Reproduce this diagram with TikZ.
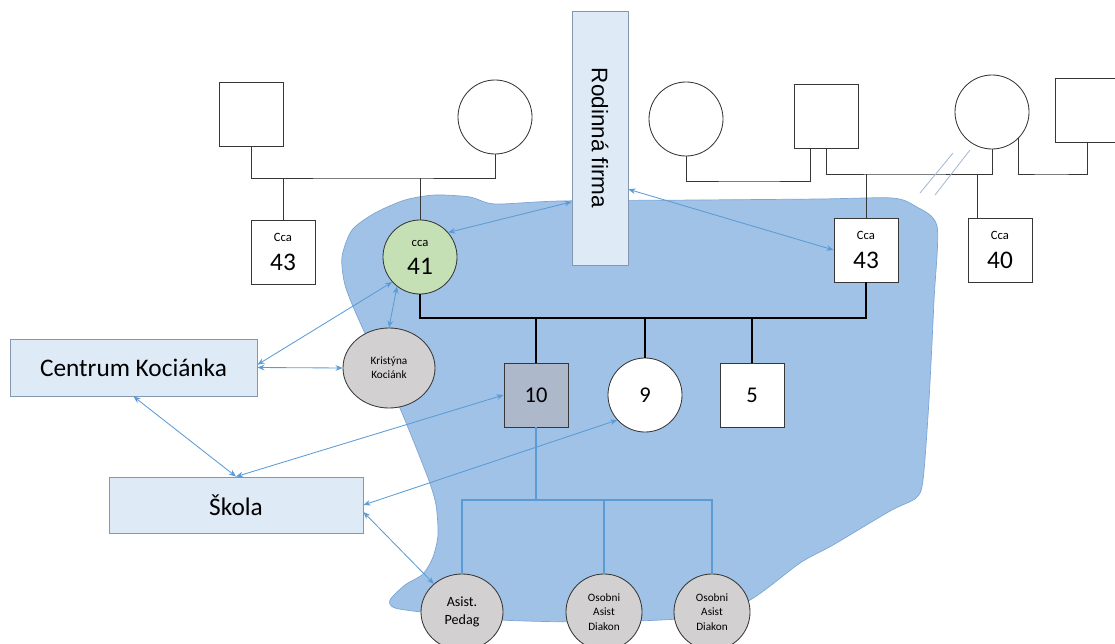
\documentclass[tikz,border=0pt]{standalone}
\usepackage{fontspec}
\setmainfont{Carlito}
\newfontfamily\arialfont{Liberation Sans}
\usetikzlibrary{shapes.geometric,arrows.meta,calc}

\definecolor{blobblue}{RGB}{160,194,230}
\definecolor{blobedge}{RGB}{125,165,212}
\definecolor{arrowblue}{RGB}{91,155,213}
\definecolor{boxfill}{RGB}{222,235,247}
\definecolor{boxedge}{RGB}{132,151,176}
\definecolor{zelena}{RGB}{197,224,180}
\definecolor{seda}{RGB}{210,208,208}
\definecolor{sedomodra}{RGB}{173,185,202}
\definecolor{linegray}{RGB}{55,55,55}
\definecolor{slashgray}{RGB}{165,185,210}

\newcommand\velke{\fontsize{18}{20}\selectfont}
\newcommand\stredni{\fontsize{16}{18}\selectfont}
\newcommand\mensi{\fontsize{9}{10}\selectfont}

\begin{document}
\begin{tikzpicture}[x=0.025cm,y=-0.025cm]
\tikzset{
    osoba/.style={draw=linegray, line width=0.6pt, fill=white, inner sep=0pt, align=center},
    muz/.style={osoba, rectangle, minimum width=1.6cm, minimum height=1.6cm},
    zena/.style={osoba, ellipse, minimum width=1.85cm, minimum height=1.85cm},
    vek/.style={font=\velke},
    ramec/.style={draw=boxedge, fill=boxfill, line width=0.6pt, inner sep=0pt},
    vazba/.style={<->, >={Stealth[length=5pt,width=4pt]}, draw=arrowblue, line width=0.6pt},
    rodina/.style={draw=linegray, line width=0.7pt},
    deti/.style={draw=black, line width=2pt},
    pomoc/.style={draw=arrowblue, line width=1.2pt}
}
\useasboundingbox (0,0) rectangle (1115,643);

    % modra oblast
    \fill[blobblue, draw=blobedge, line width=0.5pt] plot[smooth cycle, tension=0.45] coordinates {
        (342,257) (352,230) (375,213) (405,200) (435,195) (470,197) (495,204) (560,201)
        (700,200) (820,199) (892,198) (915,206) (937,226) (934,300) (929,400) (923,480)
        (916,498) (890,511) (833,545) (800,563) (750,600) (700,617) (600,622) (500,620)
        (430,613) (395,608) (390,600) (405,585) (423,574) (433,557) (438,535) (436,505)
        (428,478) (402,413) (380,365) (358,318) (345,285)};

    % prarodice
    \node[muz] (gf1) at (251,114) {};
    \node[zena] (gm1) at (495,117) {};
    \node[zena] (gm2) at (686,119) {};
    \node[muz] (gf2) at (826,116) {};
    \node[zena] (gm3) at (992,112) {};
    \node[muz] (gf3) at (1087,110) {};

    % rodice
    \node[muz, vek] (u1) at (283,252) {{\mensi Cca}\\43};
    \node[zena, vek, fill=zelena] (mo) at (420,257) {{\mensi cca}\\41};
    \node[muz, vek] (fa) at (866,250) {{\mensi Cca}\\43};
    \node[muz, vek] (u2) at (1000,250) {{\mensi Cca}\\40};

    % deti
    \node[muz, fill=sedomodra, font=\stredni] (c10) at (536,395) {10};
    \node[zena, font=\stredni] (c9) at (645,395) {9};
    \node[muz, font=\stredni] (c5) at (752,395) {5};

    % instituce
    \node[ramec, minimum width=1.4cm, minimum height=6.35cm] (rf) at (600,138)
        {\rotatebox{-90}{\arialfont\stredni Rodinná firma}};
    \node[ramec, minimum width=6.175cm, minimum height=1.425cm, font=\velke] (ck) at (133.5,367.5) {Centrum Kociánka};
    \node[ramec, minimum width=6.35cm, minimum height=1.4cm, font=\velke] (sk) at (236,505) {Škola};

    % asistenti
    \node[osoba, ellipse, fill=seda, minimum width=2.3cm, minimum height=2cm,
        font=\fontsize{8}{10}\selectfont] (kr) at (389,368) {Kristýna\\Kociánk};
    \node[osoba, ellipse, fill=seda, minimum width=2.05cm, minimum height=1.9cm,
        font=\fontsize{10}{13}\selectfont] (ap) at (462,612) {Asist.\\Pedag};
    \node[osoba, ellipse, fill=seda, minimum width=1.9cm, minimum height=1.9cm,
        font=\fontsize{8}{10.5}\selectfont] (oa1) at (604,612) {Osobni\\Asist\\Diakon};
    \node[osoba, ellipse, fill=seda, minimum width=1.9cm, minimum height=1.9cm,
        font=\fontsize{8}{10.5}\selectfont] (oa2) at (712,612) {Osobni\\Asist\\Diakon};

    % rodinne linky
    \coordinate (l1) at (373,178);
    \coordinate (l5) at (750,181);
    \coordinate (l6) at (900,174);
    \coordinate (l7) at (1050,174);
    \coordinate (d40) at (977,174);
    \draw[rodina] (gf1.south) |- (l1) -| (gm1.south);
    \draw[rodina] (u1.north |- l1) -- (u1.north);
    \draw[rodina] (mo.north |- l1) -- (mo.north);
    \draw[rodina] (gm2.south) |- (l5) -| ($(gf2.south)+(-16,0)$);
    \draw[rodina] (gf2.south) |- (l6) -| (gm3.south);
    \draw[rodina] (fa.north |- l6) -- (fa.north);
    \draw[rodina] (d40) -- (d40 |- u2.north);
    \draw[rodina] (gm3.-45) |- (l7) -| (gf3.south);
    \draw[slashgray, line width=0.6pt] (920,193) -- (953,153) (935,195) -- (970,150);

    % deti
    \coordinate (l3) at (640,318);
    \draw[deti] (mo.south) |- (l3) -| (fa.south);
    \foreach \d in {c10,c9,c5}
        \draw[deti] (\d.north |- l3) -- (\d.north);

    % asistence
    \coordinate (l4) at (536,500);
    \draw[pomoc] (c10.south) -- (l4);
    \draw[pomoc] (ap.north) |- (l4) -| (oa2.north);
    \draw[pomoc] (oa1.north |- l4) -- (oa1.north);

    % vazby
    \draw[vazba] (rf.246.7) -- (mo.41);
    \draw[vazba] (rf.-61.7) -- (fa.west);
    \draw[vazba] (mo.-138) -- ([yshift=2pt]ck.east);
    \draw[vazba] (mo.-128) -- (kr.north);
    \draw[vazba] (ck.east) -- (kr.west);
    \draw[vazba] (ck.south) -- (sk.north);
    \draw[vazba] (sk.north) -- (c10.west);
    \draw[vazba] (sk.east) -- (c9.-138);
    \draw[vazba] ([yshift=-5pt]sk.east) -- (ap.135);

\end{tikzpicture}
\end{document}
